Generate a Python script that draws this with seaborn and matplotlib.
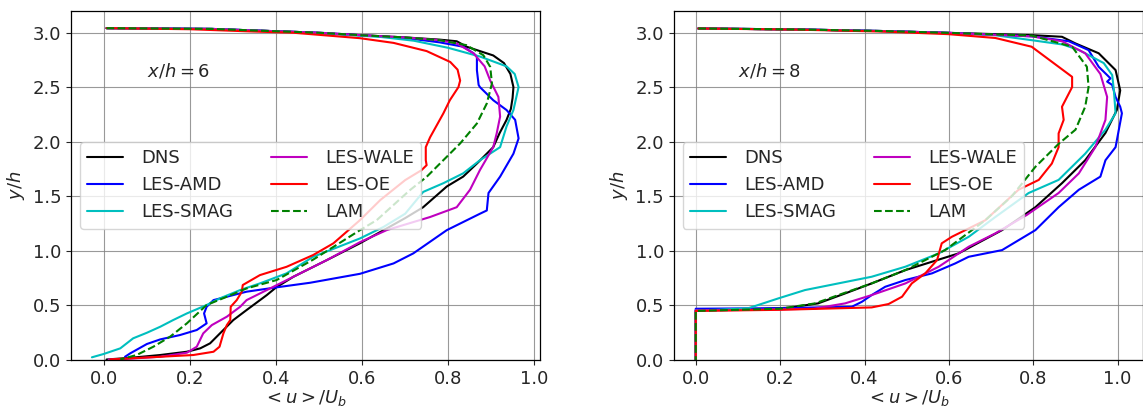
import numpy as np
import pandas as pd
import matplotlib
matplotlib.use('Agg')
import matplotlib.pyplot as plt
import seaborn as sns

# ---- x/h = 6 profiles (u/Ub, y/h) ----
dns6_u = [0.005, 0.25, 0.34, 0.45, 0.595, 0.70, 0.78, 0.82, 0.843, 0.87, 0.905, 0.93, 0.945, 0.952, 0.95,
          0.946, 0.936, 0.92, 0.905, 0.867, 0.835, 0.797, 0.742, 0.70, 0.65, 0.595, 0.518, 0.44, 0.40, 0.378,
          0.331, 0.30, 0.269, 0.246, 0.223, 0.192, 0.13, 0.06, 0.005]
dns6_y = [3.04, 3.033, 3.02, 3.005, 2.976, 2.955, 2.935, 2.92, 2.87, 2.835, 2.79, 2.72, 2.62, 2.50, 2.40,
          2.30, 2.20, 2.08, 1.95, 1.80, 1.68, 1.59, 1.40, 1.30, 1.19, 1.07, 0.916, 0.763, 0.666, 0.595,
          0.458, 0.366, 0.244, 0.153, 0.107, 0.076, 0.046, 0.02, 0.005]

amd6_u = [0.005, 0.25, 0.34, 0.5, 0.595, 0.70, 0.78, 0.835, 0.859, 0.867, 0.867, 0.871, 0.874, 0.905, 0.936,
          0.956, 0.964, 0.952, 0.921, 0.894, 0.89, 0.874, 0.797, 0.719, 0.673, 0.595, 0.479, 0.401, 0.331,
          0.285, 0.254, 0.238, 0.232, 0.238, 0.215, 0.176, 0.13, 0.099, 0.06, 0.048]
amd6_y = [3.04, 3.033, 3.02, 2.998, 2.976, 2.95, 2.91, 2.87, 2.81, 2.78, 2.655, 2.52, 2.50, 2.38, 2.29,
          2.20, 2.03, 1.89, 1.68, 1.53, 1.37, 1.34, 1.19, 0.977, 0.885, 0.79, 0.708, 0.666, 0.626,
          0.58, 0.549, 0.488, 0.427, 0.336, 0.275, 0.229, 0.189, 0.147, 0.061, 0.03]

smag6_u = [0.005, 0.25, 0.34, 0.5, 0.595, 0.642, 0.72, 0.80, 0.874, 0.936, 0.955, 0.964, 0.952, 0.936,
           0.921, 0.874, 0.835, 0.789, 0.742, 0.70, 0.65, 0.595, 0.486, 0.424, 0.362, 0.316, 0.269, 0.238,
           0.192, 0.16, 0.13, 0.099, 0.067, 0.037, -0.002, -0.029]
smag6_y = [3.04, 3.033, 3.02, 2.995, 2.97, 2.96, 2.925, 2.86, 2.78, 2.69, 2.62, 2.50, 2.29, 2.14,
           1.95, 1.83, 1.71, 1.62, 1.54, 1.34, 1.22, 1.114, 0.946, 0.794, 0.702, 0.641, 0.565, 0.504,
           0.427, 0.366, 0.305, 0.25, 0.199, 0.107, 0.055, 0.025]

wale6_u = [0.005, 0.25, 0.34, 0.5, 0.595, 0.70, 0.78, 0.82, 0.859, 0.885, 0.898, 0.917, 0.921, 0.913,
           0.905, 0.874, 0.851, 0.82, 0.758, 0.657, 0.595, 0.518, 0.44, 0.378, 0.331, 0.316, 0.285, 0.25,
           0.23, 0.215, 0.192, 0.13, 0.05, 0.01]
wale6_y = [3.04, 3.033, 3.02, 2.998, 2.976, 2.955, 2.93, 2.90, 2.81, 2.69, 2.56, 2.41, 2.23, 2.075,
           1.95, 1.74, 1.56, 1.40, 1.31, 1.19, 1.08, 0.916, 0.763, 0.641, 0.549, 0.488, 0.397, 0.32,
           0.244, 0.122, 0.067, 0.03, 0.01, 0.005]

oe6_u = [0.005, 0.2, 0.34, 0.44, 0.595, 0.673, 0.75, 0.805, 0.822, 0.828, 0.824, 0.804, 0.789, 0.758,
         0.748, 0.748, 0.75, 0.738, 0.70, 0.642, 0.595, 0.533, 0.486, 0.424, 0.362, 0.322, 0.32, 0.308,
         0.294, 0.293, 0.285, 0.277, 0.268, 0.254, 0.207, 0.13, 0.014]
oe6_y = [3.04, 3.03, 3.01, 2.998, 2.948, 2.905, 2.83, 2.73, 2.66, 2.56, 2.50, 2.38, 2.26, 2.04,
         1.95, 1.83, 1.785, 1.739, 1.648, 1.465, 1.282, 1.069, 0.962, 0.854, 0.778, 0.687, 0.626, 0.549,
         0.488, 0.366, 0.32, 0.244, 0.122, 0.076, 0.046, 0.03, 0.006]

lam6_u = [0.005, 0.25, 0.34, 0.5, 0.595, 0.70, 0.78, 0.843, 0.882, 0.898, 0.902, 0.89, 0.867, 0.828, 0.789,
          0.75, 0.711, 0.634, 0.595, 0.486, 0.401, 0.331, 0.285, 0.238, 0.192, 0.153, 0.114, 0.075, 0.037]
lam6_y = [3.04, 3.033, 3.02, 2.998, 2.976, 2.955, 2.93, 2.884, 2.792, 2.685, 2.533, 2.35, 2.167, 1.984, 1.831,
          1.678, 1.556, 1.282, 1.19, 0.92, 0.733, 0.656, 0.58, 0.504, 0.336, 0.214, 0.122, 0.046, 0.006]

# ---- x/h = 8 profiles ----
dns8_u = [0.006, 0.244, 0.45, 0.599, 0.796, 0.868, 0.90, 0.955, 0.995, 1.006, 0.998, 0.971, 0.923, 0.868,
          0.805, 0.726, 0.623, 0.497, 0.417, 0.354, 0.29, 0.22, 0.1, 0.0, 0.0]
dns8_y = [3.037, 3.028, 3.013, 2.997, 2.976, 2.961, 2.90, 2.81, 2.656, 2.47, 2.29, 2.08, 1.83, 1.62,
          1.40, 1.19, 0.977, 0.824, 0.702, 0.61, 0.519, 0.479, 0.46, 0.455, 0.0]

amd8_u = [0.006, 0.244, 0.45, 0.599, 0.796, 0.884, 0.931, 0.955, 0.983, 0.975, 0.987, 0.995, 1.006, 1.01,
          0.995, 0.971, 0.959, 0.908, 0.86, 0.805, 0.726, 0.647, 0.615, 0.56, 0.497, 0.449, 0.417, 0.394,
          0.37, 0.2, 0.0, 0.0]
amd8_y = [3.037, 3.028, 3.013, 2.997, 2.965, 2.92, 2.839, 2.686, 2.58, 2.55, 2.52, 2.41, 2.32, 2.26,
          1.95, 1.83, 1.68, 1.56, 1.40, 1.19, 1.007, 0.946, 0.885, 0.794, 0.733, 0.671, 0.595, 0.534,
          0.488, 0.475, 0.47, 0.0]

smag8_u = [0.006, 0.244, 0.45, 0.599, 0.71, 0.796, 0.87, 0.908, 0.967, 0.987, 0.991, 0.995, 0.971, 0.923,
           0.86, 0.789, 0.71, 0.647, 0.576, 0.497, 0.417, 0.338, 0.259, 0.196, 0.125, 0.05, 0.0, 0.0]
smag8_y = [3.037, 3.028, 3.013, 2.995, 2.975, 2.93, 2.89, 2.84, 2.72, 2.61, 2.47, 2.26, 2.11, 1.89,
           1.65, 1.53, 1.31, 1.129, 0.977, 0.855, 0.763, 0.702, 0.641, 0.565, 0.475, 0.46, 0.455, 0.0]

wale8_u = [0.006, 0.244, 0.45, 0.599, 0.796, 0.868, 0.923, 0.959, 0.975, 0.971, 0.947, 0.908, 0.86, 0.785,
           0.71, 0.647, 0.576, 0.497, 0.417, 0.354, 0.28, 0.1, 0.0, 0.0]
wale8_y = [3.037, 3.028, 3.013, 2.997, 2.965, 2.92, 2.81, 2.62, 2.41, 2.20, 1.95, 1.71, 1.53, 1.33,
           1.16, 1.038, 0.855, 0.702, 0.595, 0.519, 0.47, 0.458, 0.455, 0.0]

oe8_u = [0.006, 0.244, 0.45, 0.599, 0.71, 0.796, 0.86, 0.892, 0.892, 0.868, 0.872, 0.86, 0.86, 0.844,
         0.813, 0.765, 0.686, 0.607, 0.583, 0.572, 0.544, 0.512, 0.489, 0.457, 0.417, 0.2, 0.0, 0.0]
oe8_y = [3.037, 3.026, 3.008, 2.985, 2.95, 2.87, 2.686, 2.594, 2.50, 2.32, 2.20, 2.076, 1.95, 1.80,
         1.65, 1.56, 1.28, 1.129, 1.069, 0.916, 0.794, 0.702, 0.58, 0.513, 0.482, 0.46, 0.45, 0.0]

lam8_u = [0.006, 0.244, 0.45, 0.599, 0.796, 0.892, 0.927, 0.931, 0.923, 0.90, 0.86, 0.805, 0.749, 0.686,
          0.591, 0.497, 0.417, 0.338, 0.283, 0.2, 0.05, 0.0, 0.0]
lam8_y = [3.037, 3.028, 3.013, 2.997, 2.972, 2.87, 2.686, 2.50, 2.32, 2.11, 1.98, 1.77, 1.50, 1.28,
          1.007, 0.824, 0.702, 0.595, 0.519, 0.47, 0.455, 0.45, 0.0]

labels = ['DNS', 'LES-AMD', 'LES-SMAG', 'LES-WALE', 'LES-OE', 'LAM']
colors = ['k', 'b', 'c', 'm', 'r', 'g']
styles = ['-', '-', '-', '-', '-', '--']

panels = [
    ('$x/h = 6$', [(dns6_u, dns6_y), (amd6_u, amd6_y), (smag6_u, smag6_y),
                   (wale6_u, wale6_y), (oe6_u, oe6_y), (lam6_u, lam6_y)], (-0.078, 1.014)),
    ('$x/h = 8$', [(dns8_u, dns8_y), (amd8_u, amd8_y), (smag8_u, smag8_y),
                   (wale8_u, wale8_y), (oe8_u, oe8_y), (lam8_u, lam8_y)], (-0.052, 1.06)),
]

sns.set_style('ticks')
plt.rcParams['font.family'] = ['DejaVu Sans']
plt.rcParams['font.size'] = 13

fig, axes = plt.subplots(1, 2, figsize=(11.43, 4.11), dpi=100)
fig.subplots_adjust(left=0.062, right=1.0, bottom=0.124, top=0.974, wspace=0.285)

for ax, (title, curves, xlim) in zip(axes, panels):
    for (u, y), lab, c, ls in zip(curves, labels, colors, styles):
        sns.lineplot(x=u, y=y, sort=False, estimator=None, ax=ax, color=c,
                     linestyle=ls, linewidth=1.5, label=lab)
    ax.set_xlim(*xlim)
    ax.set_ylim(0, 3.2)
    ax.set_xticks([0.0, 0.2, 0.4, 0.6, 0.8, 1.0])
    ax.set_yticks([0.0, 0.5, 1.0, 1.5, 2.0, 2.5, 3.0])
    ax.tick_params(labelsize=13, direction='out', length=3.5, width=0.8)
    ax.grid(True, color='gray', linewidth=0.8, alpha=0.8)
    for sp in ax.spines.values():
        sp.set_visible(True)
        sp.set_color('black')
        sp.set_linewidth(0.9)
    ax.set_xlabel('$<u>/U_b$', fontsize=13, labelpad=0.5)
    ax.set_ylabel('$y/h$', fontsize=13)
    ax.text(0.1, 2.65, title, fontsize=13, va='center', ha='left')
    ax.legend(loc='center left', ncol=2, fontsize=13, framealpha=0.8,
              handlelength=2.0, handletextpad=1.0, columnspacing=2.1)

plt.savefig('out.png', dpi=100)
